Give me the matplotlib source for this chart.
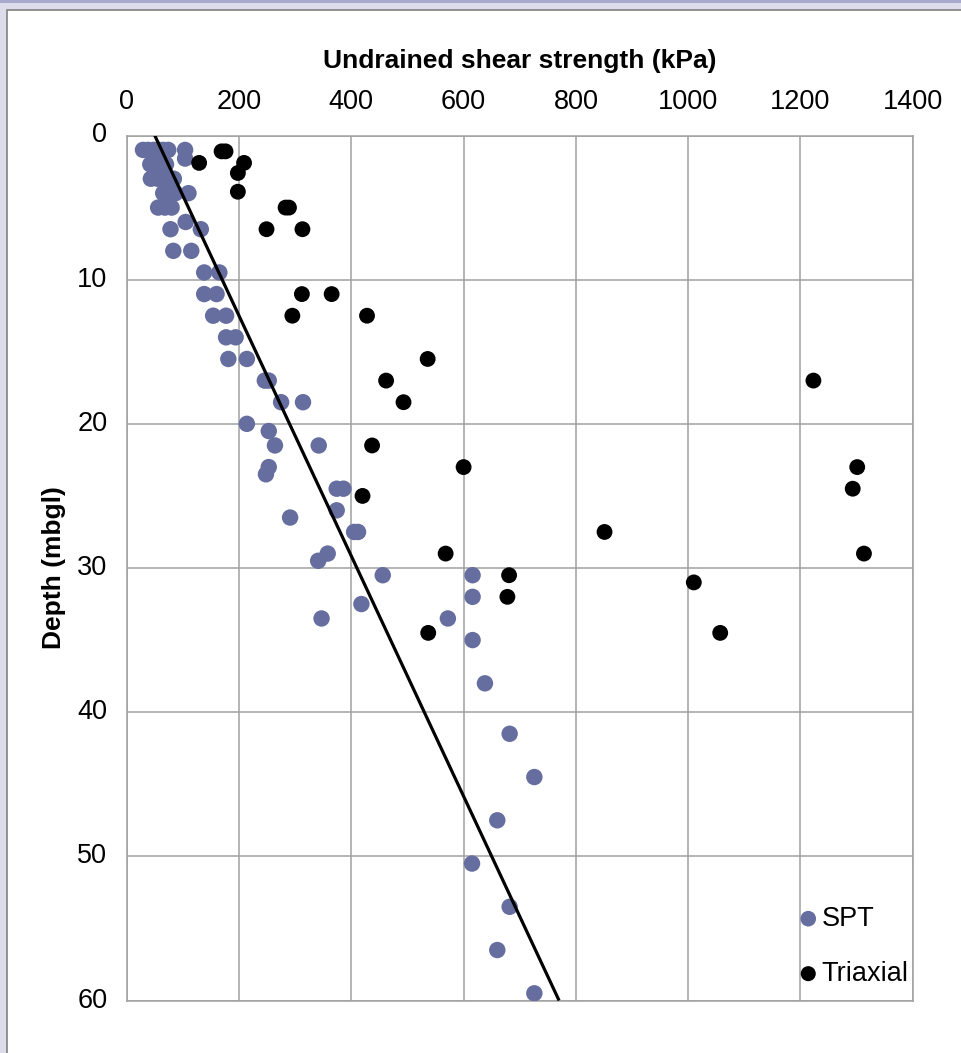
import matplotlib
matplotlib.use("Agg")
import matplotlib.pyplot as plt
from matplotlib.patches import Rectangle
import matplotlib.transforms as mtransforms

plt.rcParams['font.family'] = ['Liberation Sans', 'DejaVu Sans']

# ---------------- data ----------------
spt_depth = [1.0, 1.0, 1.0, 1.0, 1.0, 1.0, 1.0,
             1.6,
             2.0, 2.0, 2.0, 2.0,
             3.0, 3.0, 3.0, 3.0, 3.0,
             4.0, 4.0, 4.0, 4.0,
             5.0, 5.0, 5.0,
             6.0,
             6.5, 6.5,
             8.0, 8.0,
             9.5, 9.5,
             11.0, 11.0,
             12.5, 12.5,
             14.0, 14.0,
             15.5, 15.5,
             17.0, 17.0,
             18.5, 18.5,
             20.0, 20.5,
             21.5, 21.5,
             23.0, 23.5,
             24.5, 24.5,
             26.0, 26.5,
             27.5, 27.5,
             29.0, 29.5,
             30.5, 30.5,
             32.0, 32.5,
             33.5, 33.5,
             35.0, 38.0, 41.5, 44.5, 47.5, 50.5, 53.5, 56.5, 59.5]
spt_su = [29, 38, 48, 57, 65, 74, 104,
          104,
          42, 51, 60, 70,
          43, 55, 65, 75, 84,
          65, 76, 87, 110,
          56, 68, 80,
          105,
          78, 132,
          83, 115,
          138, 165,
          138, 160,
          154, 177,
          177, 194,
          181, 214,
          246, 253,
          275, 314,
          214, 253,
          264, 342,
          253, 248,
          374, 386,
          374, 291,
          405, 412,
          358, 341,
          456, 616,
          616, 418,
          347, 572,
          616, 638, 682, 726, 660, 615, 682, 660, 726]

tri_depth = [1.1, 1.1, 1.9, 1.9, 2.6, 3.9, 5.0, 5.0, 6.5, 6.5,
             11.0, 11.0, 12.5, 12.5, 15.5, 17.0, 17.0, 18.5, 21.5,
             23.0, 23.0, 24.5, 25.0, 27.5, 29.0, 29.0, 30.5, 31.0,
             32.0, 34.5, 34.5]
tri_su = [169, 176, 129, 209, 198, 198, 283, 289, 249, 313,
          312, 365, 295, 428, 536, 462, 1223, 493, 437,
          600, 1301, 1293, 420, 851, 568, 1313, 681, 1010,
          678, 537, 1057]

trend_depth = [0, 60]
trend_su = [50, 770]

x_ticks = [0, 200, 400, 600, 800, 1000, 1200, 1400]
y_ticks = [0, 10, 20, 30, 40, 50, 60]

# ---------------- figure ----------------
W, H = 961, 1053
fig = plt.figure(figsize=(W / 100, H / 100), dpi=100)
fig.patch.set_facecolor('#DCDCEA')

# top dark strip
fig.patches.append(Rectangle((0, 1 - 2.5 / H), 1, 2.5 / H, transform=fig.transFigure,
                             facecolor='#A7A9CD', edgecolor='none', zorder=-10))
# white panel with gray border on top/left
fig.patches.append(Rectangle((6.5 / W, -0.01), 1.1, 1 - 9.5 / H + 0.01, transform=fig.transFigure,
                             facecolor='white', edgecolor='#8A8A8A', linewidth=1.3, zorder=-10))

left, right = 126.7 / W, 912.8 / W
top, bottom = 1 - 135.5 / H, 1 - 1000.5 / H
ax = fig.add_axes([left, bottom, right - left, top - bottom])

ax.scatter(spt_su, spt_depth, s=140, color='#666EA0', edgecolors='none', zorder=3, label='SPT')
ax.scatter(tri_su, tri_depth, s=130, color='black', edgecolors='none', zorder=3, label='Triaxial')
ax.plot(trend_su, trend_depth, color='black', linewidth=2.3, zorder=4, solid_capstyle='butt')

ax.set_xlim(0, 1400)
ax.set_ylim(60, 0)
ax.set_xticks(x_ticks)
ax.set_yticks(y_ticks)
ax.xaxis.tick_top()
ax.xaxis.set_label_position('top')
ax.tick_params(axis='both', length=0, labelsize=19.5, colors='black')
ax.tick_params(axis='x', pad=15)
ax.tick_params(axis='y', pad=14)

# shift y tick labels slightly upward like reference
offset = mtransforms.ScaledTranslation(0, 3 / 100, fig.dpi_scale_trans)
for lab in ax.get_yticklabels():
    lab.set_transform(lab.get_transform() + offset)

ax.set_xlabel('Undrained shear strength (kPa)', fontsize=19, fontweight='bold', labelpad=15)
ax.set_ylabel('Depth (mbgl)', fontsize=19, fontweight='bold', labelpad=8)

ax.grid(True, color='#A0A0A0', linewidth=1.1, zorder=0)
ax.set_axisbelow(True)
for sp in ax.spines.values():
    sp.set_color('#A0A0A0')
    sp.set_linewidth(1.1)

leg = ax.legend(loc='upper left', bbox_to_anchor=(0.836, 0.122), frameon=False,
                fontsize=19.5, handletextpad=0.0, labelspacing=1.07, borderaxespad=0,
                markerscale=0.95, handlelength=1.0)

fig.savefig('out.png', dpi=100, facecolor=fig.get_facecolor())
